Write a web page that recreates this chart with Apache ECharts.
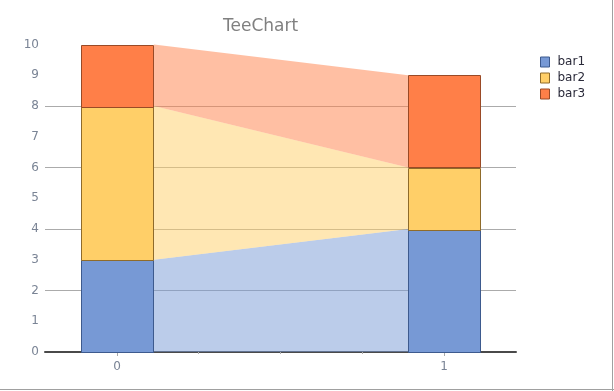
<!DOCTYPE html>
<html><head><meta charset="utf-8">
<script src="https://cdn.jsdelivr.net/npm/echarts@6/dist/echarts.min.js"></script>
<style>html,body{margin:0;padding:0;background:#fff}#c{width:614px;height:391px}</style>
</head><body><div id="c"></div>
<script>
const categories = [0, 1];
const seriesNames = ['bar1', 'bar2', 'bar3'];
const bar1 = [3, 4];
const bar2 = [5, 2];
const bar3 = [2, 3];
const yTicks = [0,1,2,3,4,5,6,7,8,9,10];

const colors = ['#7799D5', '#FFCF68', '#FF7F48'];
const borders = ['#3D5A8E', '#8F6B2A', '#9A4A26'];
const halfW = 0.11;

const values = [bar1, bar2, bar3];
const bases = [], tops = [];
values.forEach((v, s) => {
  bases.push(v.map((_, i) => s === 0 ? 0 : tops[s-1][i]));
  tops.push(v.map((x, i) => bases[s][i] + x));
});

const series = [];
values.forEach((v, s) => {
  const data = [];
  for (let i = 0; i < categories.length - 1; i++) {
    data.push([categories[i], bases[s][i], tops[s][i], categories[i+1], bases[s][i+1], tops[s][i+1]]);
  }
  series.push({
    type: 'custom', name: seriesNames[s] + '_area', silent: true, z: 1,
    data: data, encode: {x: [0, 3], y: [1, 2, 4, 5]},
    renderItem: function (params, api) {
      const p1 = api.coord([api.value(0) + halfW, api.value(2)]);
      const p2 = api.coord([api.value(3) - halfW, api.value(5)]);
      const p3 = api.coord([api.value(3) - halfW, api.value(4)]);
      const p4 = api.coord([api.value(0) + halfW, api.value(1)]);
      p1[0] += 1; p4[0] += 1;
      return {type: 'polygon', shape: {points: [p1, p2, p3, p4]},
        style: {fill: colors[s], opacity: 0.5}};
    }
  });
});
values.forEach((v, s) => {
  const data = categories.map((c, i) => [c, bases[s][i], tops[s][i]]);
  series.push({
    type: 'custom', name: seriesNames[s], z: 3,
    itemStyle: {color: colors[s], borderColor: borders[s]},
    data: data, encode: {x: 0, y: [1, 2]},
    renderItem: function (params, api) {
      const a = api.coord([api.value(0) - halfW, api.value(2)]);
      const b = api.coord([api.value(0) + halfW, api.value(1)]);
      return {type: 'rect', shape: {x: Math.round(a[0]) + 0.5, y: Math.round(a[1]) + 0.5,
        width: Math.round(b[0] - a[0]), height: Math.round(b[1] - a[1])},
        style: {fill: colors[s], stroke: borders[s], lineWidth: 1}};
    }
  });
});

const gridColors = yTicks.map(t => (t % 2 === 0 && t !== 0 && t !== 10) ? '#ababab' : 'rgba(0,0,0,0)');

const chart = echarts.init(document.getElementById('c'), null, {renderer: 'canvas'});
chart.setOption({
  animation: false,
  backgroundColor: '#fff',
  title: {text: 'TeeChart', left: 223, top: 18, padding: 0,
    textStyle: {fontFamily: 'DejaVu Sans', fontSize: 17, fontWeight: 'normal', color: '#808080'}},
  legend: {
    orient: 'vertical', left: 540, top: 56, padding: 0, itemWidth: 9, itemHeight: 10, itemGap: 4,
    icon: 'rect',
    textStyle: {fontFamily: 'DejaVu Sans', fontSize: 12, color: '#2a2a3a', padding: [0,0,0,3]},
    data: seriesNames.map((n, s) => ({name: n, itemStyle: {color: colors[s], borderColor: borders[s], borderWidth: 1}}))
  },
  grid: {left: 45, right: 98, top: 44.5, bottom: 39, containLabel: false},
  xAxis: [{
    type: 'value', min: -0.22, max: 1.22,
    axisLine: {show: true, onZero: false, lineStyle: {color: '#4a4a4a', width: 2}},
    axisTick: {show: true, customValues: categories, length: 4, lineStyle: {color: '#aaaaaa'}},
    axisLabel: {show: true, customValues: categories, margin: 9,
      fontFamily: 'DejaVu Sans', fontSize: 12, color: '#7a8495'},
    splitLine: {show: false}
  }, {
    type: 'value', min: -0.22, max: 1.22, position: 'bottom',
    axisLine: {show: false},
    axisTick: {show: true, customValues: [0.25, 0.5, 0.75], length: 2, lineStyle: {color: '#aaaaaa'}},
    axisLabel: {show: false},
    splitLine: {show: false}
  }],
  yAxis: {
    type: 'value', min: 0, max: 10, interval: 1,
    axisLine: {show: false}, axisTick: {show: false},
    axisLabel: {margin: 6, fontFamily: 'DejaVu Sans', fontSize: 12, color: '#7a8495'},
    splitLine: {show: true, lineStyle: {color: gridColors, width: 1}}
  },
  graphic: [
    {type: 'line', shape: {x1: 612.5, y1: 0, x2: 612.5, y2: 391}, style: {stroke: '#a0a0a0', lineWidth: 1}},
    {type: 'line', shape: {x1: 0, y1: 389.5, x2: 614, y2: 389.5}, style: {stroke: '#a0a0a0', lineWidth: 1}}
  ],
  series: series
});
</script></body></html>
